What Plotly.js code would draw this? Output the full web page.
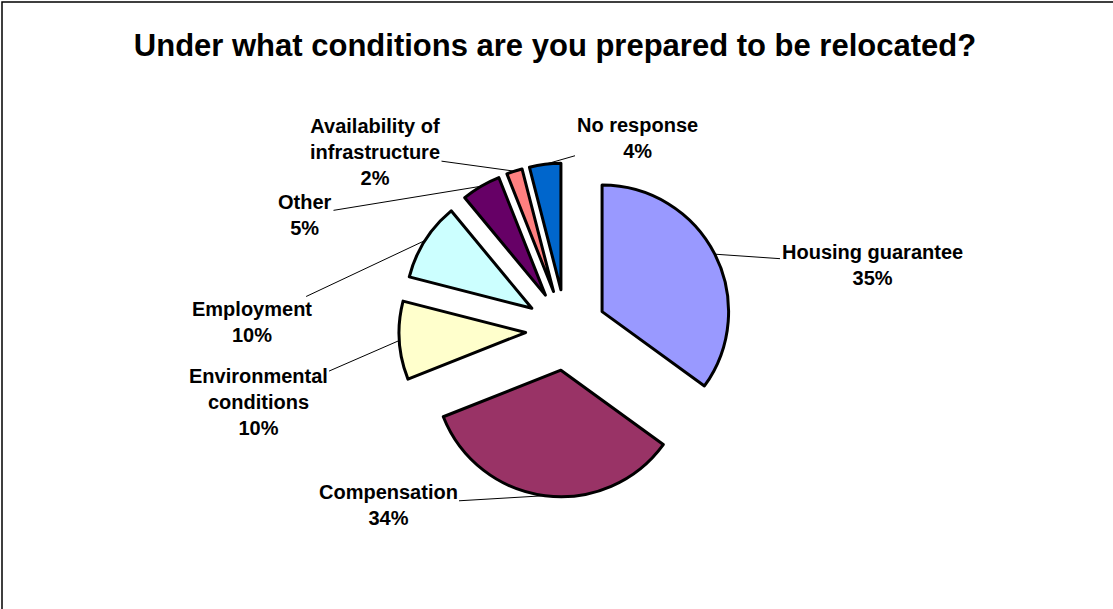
<!DOCTYPE html>
<html>
<head>
<meta charset="utf-8">
<script src="https://cdn.plot.ly/plotly-3.0.1.min.js"></script>
<style>
  html, body { margin: 0; padding: 0; background: #ffffff; }
  #chart { width: 1113px; height: 609px; }
</style>
</head>
<body>
<div id="chart"></div>
<script>
// ---- data ----
const categories = ['Housing guarantee', 'Compensation', 'Environmental conditions', 'Employment', 'Other', 'Availability of infrastructure', 'No response'];
const values = [35, 34, 10, 10, 5, 2, 4];
const labelLines = ['Housing guarantee', 'Compensation', 'Environmental<br>conditions', 'Employment', 'Other', 'Availability of<br>infrastructure', 'No response'];
const colors = ['#9999FF', '#993366', '#FFFFCC', '#CCFFFF', '#660066', '#FF8080', '#0066CC'];
const chartTitle = 'Under what conditions are you prepared to be relocated?';

// ---- layout / style ----
const W = 1113, H = 609;
const dom = { x: [399 / W, 733 / W], y: [1 - 497 / H, 1 - 163 / H] };
const pull = 0.32;
// label block centres (pixels) - placement style only
const labelPos = [[872, 265], [388, 505], [258, 402], [252, 322], [305, 215], [375, 152], [637, 138]];

const total = values.reduce((a, b) => a + b, 0);
const cx = W * (dom.x[0] + dom.x[1]) / 2;
const cy = H * (1 - (dom.y[0] + dom.y[1]) / 2);
const r = Math.min(W * (dom.x[1] - dom.x[0]), H * (dom.y[1] - dom.y[0])) / 2 / (1 + pull);

const annotations = [];
let cum = 0;
values.forEach((v, i) => {
  const mid = (cum + v / 2) / total * 2 * Math.PI;
  cum += v;
  const tx = cx + r * (1 + pull) * Math.sin(mid);
  const ty = cy - r * (1 + pull) * Math.cos(mid);
  const pct = Math.round(v / total * 100) + '%';
  annotations.push({
    xref: 'paper', yref: 'paper',
    x: tx / W, y: 1 - ty / H,
    ax: labelPos[i][0] - tx, ay: labelPos[i][1] - ty,
    text: labelLines[i] + '<br>' + pct,
    showarrow: true, arrowhead: 0, arrowwidth: 1, arrowcolor: '#000000', standoff: 0,
    align: 'center',
    font: { family: 'Liberation Sans, Arial, sans-serif', size: 20, color: '#000000', weight: 'bold' }
  });
});

const trace = {
  type: 'pie',
  labels: categories,
  values: values,
  sort: false,
  direction: 'clockwise',
  rotation: 0,
  pull: values.map(() => pull),
  marker: { colors: colors, line: { color: '#000000', width: 3 } },
  textinfo: 'none',
  hoverinfo: 'label+percent',
  domain: dom,
  showlegend: false
};

const layout = {
  width: W, height: H,
  margin: { l: 0, r: 0, t: 0, b: 0 },
  paper_bgcolor: '#ffffff',
  title: {
    text: '<b>' + chartTitle + '</b>',
    x: 555 / W, xanchor: 'center', xref: 'paper',
    y: 1 - 45 / H, yanchor: 'middle', yref: 'paper',
    font: { family: 'Liberation Sans, Arial, sans-serif', size: 31, color: '#000000' }
  },
  annotations: annotations,
  shapes: [{
    type: 'rect', xref: 'paper', yref: 'paper',
    x0: 2 / W, x1: 1.02, y0: -0.02, y1: 1 - 2 / H,
    line: { color: '#000000', width: 1.5 }, fillcolor: 'rgba(0,0,0,0)'
  }],
  showlegend: false
};

Plotly.newPlot('chart', [trace], layout, { displayModeBar: false, staticPlot: true });
</script>
</body>
</html>
